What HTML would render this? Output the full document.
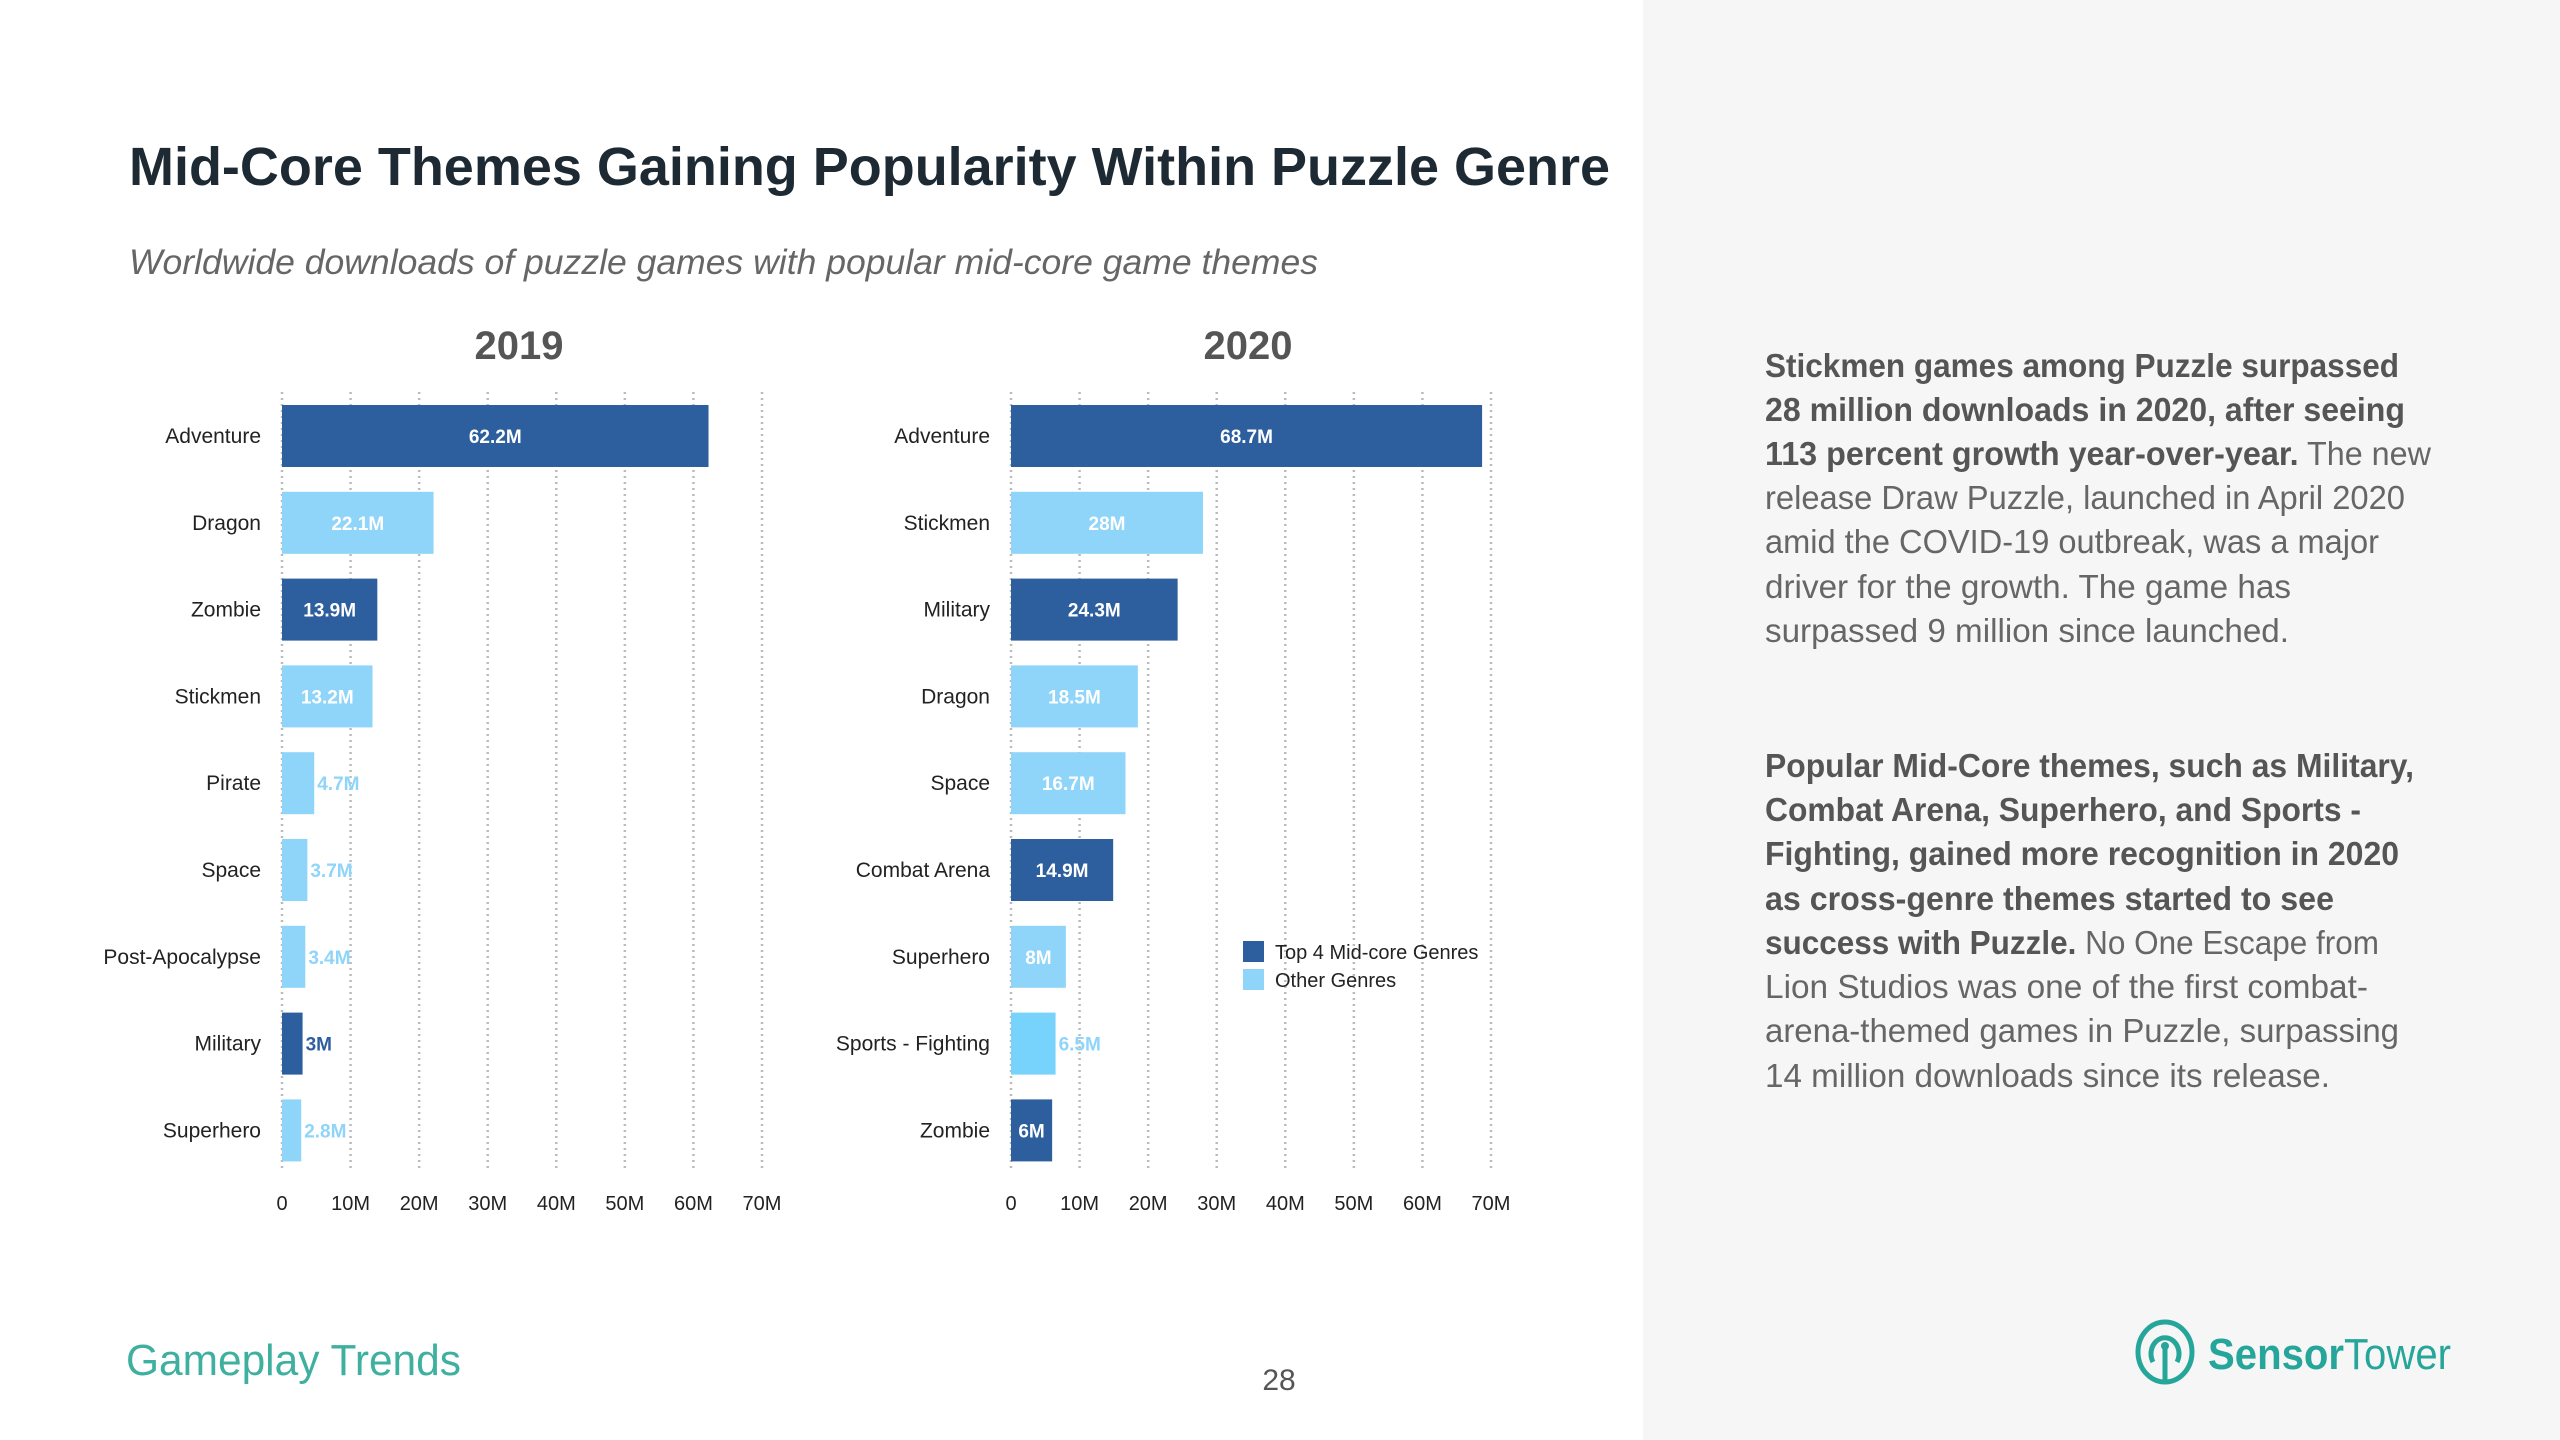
<!DOCTYPE html>
<html><head><meta charset="utf-8"><style>
html,body{margin:0;padding:0;background:#fff}
svg{display:block;font-family:"Liberation Sans",sans-serif}
</style></head><body>
<svg id="page" width="2560" height="1440" viewBox="0 0 2560 1440" xmlns="http://www.w3.org/2000/svg">
<rect x="0" y="0" width="2560" height="1440" fill="#ffffff"/>
<rect x="1643" y="0" width="917" height="1440" fill="#f6f6f6"/>
<text x="129" y="185" font-size="54" font-weight="bold" fill="#1d2a33" textLength="1481" lengthAdjust="spacingAndGlyphs">Mid-Core Themes Gaining Popularity Within Puzzle Genre</text>
<text x="129" y="274" font-size="35" font-style="italic" fill="#666" textLength="1189" lengthAdjust="spacingAndGlyphs">Worldwide downloads of puzzle games with popular mid-core game themes</text>
<text x="519" y="359" font-size="40" font-weight="bold" fill="#555" text-anchor="middle">2019</text>
<text x="1248" y="359" font-size="40" font-weight="bold" fill="#555" text-anchor="middle">2020</text>
<g id="charts"></g>
<g>
<rect x="1243" y="941" width="21" height="21" fill="#2d5f9e"/>
<text x="1275" y="959" font-size="20" fill="#222">Top 4 Mid-core Genres</text>
<rect x="1243" y="969" width="21" height="21" fill="#8fd4f9"/>
<text x="1275" y="987" font-size="20" fill="#222">Other Genres</text>
</g>
<g font-size="33" fill="#666">
<text x="1765" y="377" font-weight="bold" fill="#555" textLength="634" lengthAdjust="spacingAndGlyphs">Stickmen games among Puzzle surpassed</text>
<text x="1765" y="421" font-weight="bold" fill="#555" textLength="640" lengthAdjust="spacingAndGlyphs">28 million downloads in 2020, after seeing</text>
<text x="1765" y="465" textLength="666" lengthAdjust="spacingAndGlyphs"><tspan font-weight="bold" fill="#555">113 percent growth year-over-year.</tspan> The new</text>
<text x="1765" y="509" textLength="640" lengthAdjust="spacingAndGlyphs">release Draw Puzzle, launched in April 2020</text>
<text x="1765" y="553" textLength="614" lengthAdjust="spacingAndGlyphs">amid the COVID-19 outbreak, was a major</text>
<text x="1765" y="598" textLength="526" lengthAdjust="spacingAndGlyphs">driver for the growth. The game has</text>
<text x="1765" y="642" textLength="524" lengthAdjust="spacingAndGlyphs">surpassed 9 million since launched.</text>
</g>
<g font-size="33" fill="#666">
<text x="1765" y="777" font-weight="bold" fill="#555" textLength="649" lengthAdjust="spacingAndGlyphs">Popular Mid-Core themes, such as Military,</text>
<text x="1765" y="821" font-weight="bold" fill="#555" textLength="596" lengthAdjust="spacingAndGlyphs">Combat Arena, Superhero, and Sports -</text>
<text x="1765" y="865" font-weight="bold" fill="#555" textLength="634" lengthAdjust="spacingAndGlyphs">Fighting, gained more recognition in 2020</text>
<text x="1765" y="910" font-weight="bold" fill="#555" textLength="569" lengthAdjust="spacingAndGlyphs">as cross-genre themes started to see</text>
<text x="1765" y="954" textLength="614" lengthAdjust="spacingAndGlyphs"><tspan font-weight="bold" fill="#555">success with Puzzle.</tspan> No One Escape from</text>
<text x="1765" y="998" textLength="603" lengthAdjust="spacingAndGlyphs">Lion Studios was one of the first combat-</text>
<text x="1765" y="1042" textLength="634" lengthAdjust="spacingAndGlyphs">arena-themed games in Puzzle, surpassing</text>
<text x="1765" y="1087" textLength="565" lengthAdjust="spacingAndGlyphs">14 million downloads since its release.</text>
</g>
<text x="126" y="1375" font-size="44" fill="#3fb0a0" textLength="335" lengthAdjust="spacingAndGlyphs">Gameplay Trends</text>
<text x="1279" y="1390" font-size="30" fill="#555" text-anchor="middle">28</text>
<g>
<ellipse cx="2165" cy="1352" rx="27" ry="30" fill="none" stroke="#26a69a" stroke-width="5"/>
<path d="M2153 1362 A14 16 0 1 1 2177 1362" fill="none" stroke="#26a69a" stroke-width="5"/>
<line x1="2165" y1="1346" x2="2165" y2="1382" stroke="#26a69a" stroke-width="5"/>
<circle cx="2165" cy="1346" r="4" fill="#26a69a"/>
<text x="2208" y="1369" font-size="44" fill="#26a69a" textLength="243" lengthAdjust="spacingAndGlyphs"><tspan font-weight="bold">Sensor</tspan>Tower</text>
</g>
</svg>
<script>
const NS='http://www.w3.org/2000/svg';
const ticks=[0,10,20,30,40,50,60,70];
const tickLabels=['0','10M','20M','30M','40M','50M','60M','70M'];
const cats2019=['Adventure','Dragon','Zombie','Stickmen','Pirate','Space','Post-Apocalypse','Military','Superhero'];
const vals2019=[62.2,22.1,13.9,13.2,4.7,3.7,3.4,3,2.8];
const labels2019=['62.2M','22.1M','13.9M','13.2M','4.7M','3.7M','3.4M','3M','2.8M'];
const top2019=[1,0,1,0,0,0,0,1,0];
const cats2020=['Adventure','Stickmen','Military','Dragon','Space','Combat Arena','Superhero','Sports - Fighting','Zombie'];
const vals2020=[68.7,28,24.3,18.5,16.7,14.9,8,6.5,6];
const labels2020=['68.7M','28M','24.3M','18.5M','16.7M','14.9M','8M','6.5M','6M'];
const top2020=[1,0,1,0,0,1,0,0,1];
const root=document.getElementById('charts');
function mk(tag,attrs,parent){const e=document.createElementNS(NS,tag);for(const k in attrs)e.setAttribute(k,attrs[k]);parent.appendChild(e);return e;}
function drawChart(id,x0,cats,vals,labels,top){
  const g=mk('g',{},root);
  
  
  const pxPerM=(480)/70;
  const xs=v=>x0+v*pxPerM;
  const y0=436,step=86.8,bh=62;
  const ys=i=>y0+i*step;
  ticks.forEach((t,i)=>{
    const l=mk('line',{x1:xs(t),x2:xs(t),y1:392,y2:1172,stroke:'#bbb','stroke-width':2.5,'stroke-dasharray':'2 4'},g);
    
    
    const tx=mk('text',{x:xs(t),y:1210,'font-size':20,fill:'#222','text-anchor':'middle'},g);
    tx.textContent=tickLabels[i];
    
    
  });
  cats.forEach((c,i)=>{
    const cy=ys(i);
    const col=top[i]?'#2d5f9e':(c==='Sports - Fighting'?'#77d3fb':'#8fd4f9');
    const lblCol=top[i]?'#2d5f9e':'#8fd4f9';
    const w=xs(vals[i])-x0;
    const r=mk('rect',{x:x0,y:cy-bh/2,width:w,height:bh,fill:col},g);
    
    
    const cl=mk('text',{x:x0-21,y:cy+7,'font-size':21,fill:'#222','text-anchor':'end'},g);
    cl.textContent=c;
    
    
    const lw=labels[i].length*11.5;
    let vl;
    if(w>lw+12){vl=mk('text',{x:x0+w/2,y:cy+7,'font-size':19,'font-weight':'bold',fill:'#fff','text-anchor':'middle'},g);}
    else{vl=mk('text',{x:x0+w+3,y:cy+7,'font-size':19,'font-weight':'bold',fill:lblCol},g);}
    vl.textContent=labels[i];
    
    
  });
}
drawChart('chart-2019',282,cats2019,vals2019,labels2019,top2019);
drawChart('chart-2020',1011,cats2020,vals2020,labels2020,top2020);
</script>
</body></html>
